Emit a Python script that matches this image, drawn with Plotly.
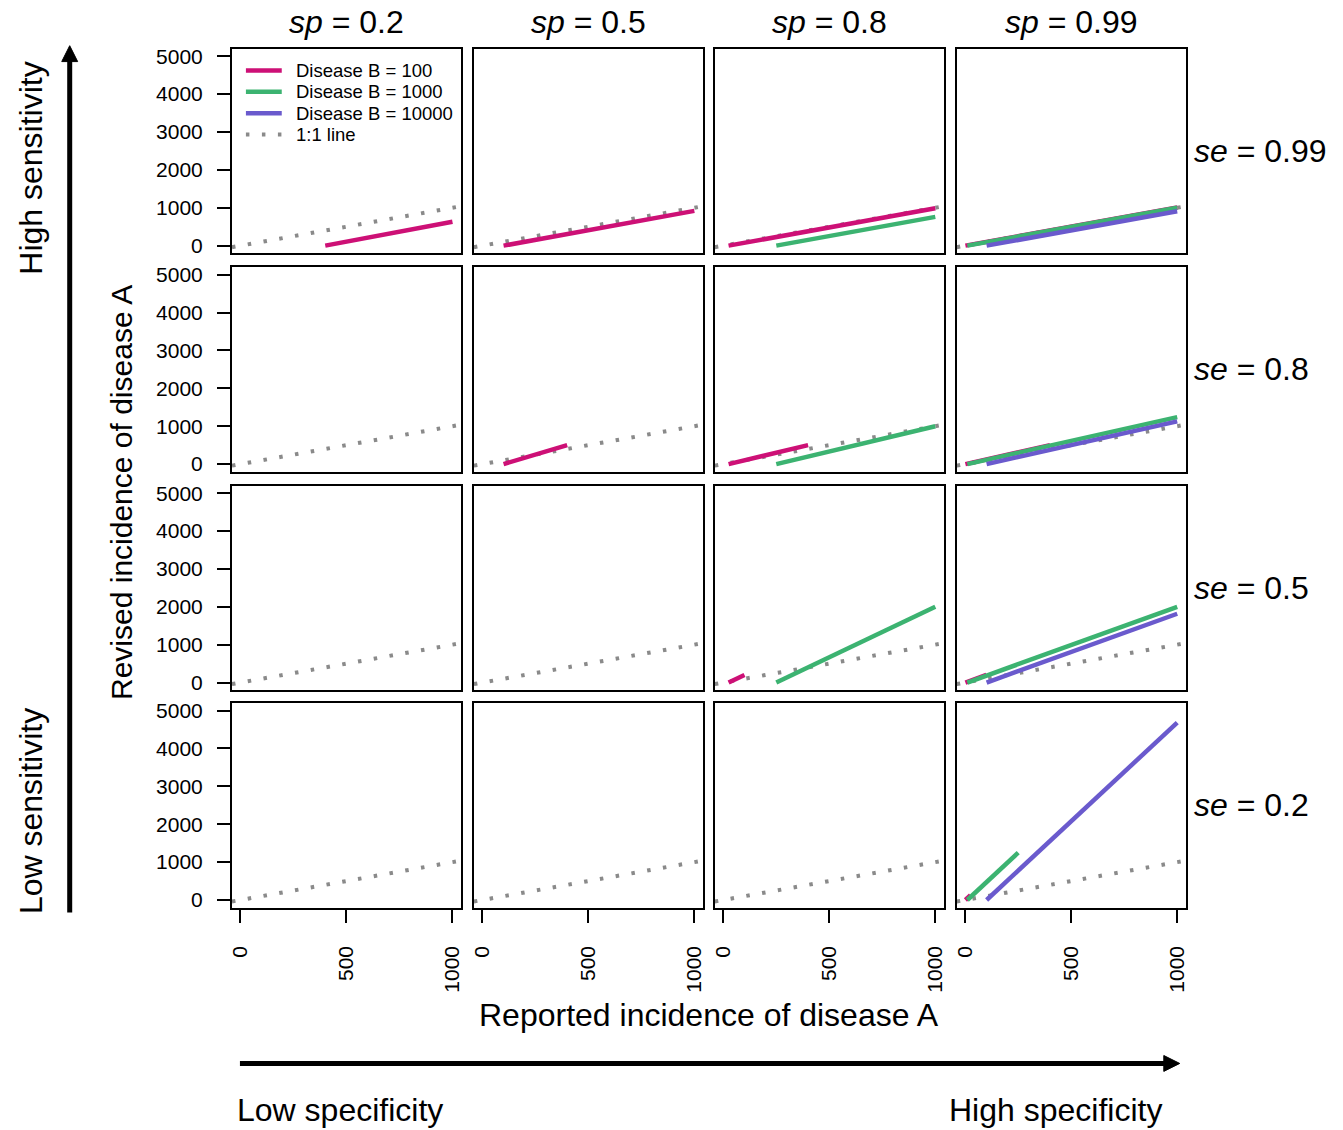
import plotly.graph_objects as go

# ---------------- data ----------------
se_values = [0.99, 0.8, 0.5, 0.2]          # rows, top to bottom
sp_values = [0.2, 0.5, 0.8, 0.99]          # columns, left to right
x_ticks = [0, 500, 1000]
y_ticks = [0, 1000, 2000, 3000, 4000, 5000]

# Disease B = 100
b100_se = [0.99, 0.99, 0.99, 0.99, 0.8, 0.8, 0.8, 0.5, 0.5, 0.2]
b100_sp = [0.2, 0.5, 0.8, 0.99, 0.5, 0.8, 0.99, 0.8, 0.99, 0.99]
b100_x0 = [400, 100, 25, 1, 100, 25, 1, 25, 1, 1]
b100_x1 = [1000, 1000, 1000, 1000, 400, 400, 400, 100, 100, 25]
b100_y0 = [0, 0, 0, 0, 0, 0, 0, 0, 0, 0]
b100_y1 = [632, 918, 987, 1009, 500, 500, 500, 200, 200, 125]

# Disease B = 1000
b1000_se = [0.99, 0.99, 0.8, 0.8, 0.5, 0.5, 0.2]
b1000_sp = [0.8, 0.99, 0.8, 0.99, 0.8, 0.99, 0.99]
b1000_x0 = [250, 10, 250, 10, 250, 10, 10]
b1000_x1 = [1000, 1000, 1000, 1000, 1000, 1000, 250]
b1000_y0 = [0, 0, 0, 0, 0, 0, 0]
b1000_y1 = [759, 1000, 1000, 1241, 2000, 2000, 1250]

# Disease B = 10000
b10000_se = [0.99, 0.8, 0.5, 0.2]
b10000_sp = [0.99, 0.99, 0.99, 0.99]
b10000_x0 = [101, 101, 101, 101]
b10000_x1 = [1000, 1000, 1000, 1000]
b10000_y0 = [0, 0, 0, 0]
b10000_y1 = [908, 1127, 1816, 4684]

# 1:1 reference line (spans the whole plotting region)
ref_x = [-40, 1040]
ref_y = [-40, 1040]

series_names = ["Disease B = 100", "Disease B = 1000", "Disease B = 10000"]
series_colors = ["#CD1076", "#3CB371", "#6A5ACD"]
series = [
    (b100_se, b100_sp, b100_x0, b100_x1, b100_y0, b100_y1),
    (b1000_se, b1000_sp, b1000_x0, b1000_x1, b1000_y0, b1000_y1),
    (b10000_se, b10000_sp, b10000_x0, b10000_x1, b10000_y0, b10000_y1),
]
REF_NAME = "1:1 line"
REF_COLOR = "#8a8a8a"
REF_DASH = "3.5px,12.5px"

# ---------------- layout geometry (pixels) ----------------
W, H = 1343, 1130
col_l = [229, 472, 714, 957]
col_r = [459, 702, 944, 1187]
row_t = [45, 265, 485, 704]
row_b = [251, 471, 691, 910]


def px(x):
    return x / W


def py(y):
    return 1 - y / H


FONT = "Liberation Sans, Arial, Helvetica, sans-serif"
fig = go.Figure()


def axis_id(r, c):
    return r * 4 + c + 1


# 1:1 lines first (underneath)
for r in range(4):
    for c in range(4):
        k = axis_id(r, c)
        fig.add_trace(go.Scatter(
            x=ref_x, y=ref_y, mode="lines",
            line=dict(color=REF_COLOR, width=4, dash=REF_DASH),
            name=REF_NAME, showlegend=False,
            xaxis="x" if k == 1 else f"x{k}", yaxis="y" if k == 1 else f"y{k}",
            hoverinfo="skip",
        ))

for name, color, (s_se, s_sp, x0, x1, y0, y1) in zip(series_names, series_colors, series):
    for i in range(len(s_se)):
        r = se_values.index(s_se[i])
        c = sp_values.index(s_sp[i])
        k = axis_id(r, c)
        fig.add_trace(go.Scatter(
            x=[x0[i], x1[i]], y=[y0[i], y1[i]], mode="lines",
            line=dict(color=color, width=4.5),
            name=name, showlegend=False,
            xaxis="x" if k == 1 else f"x{k}", yaxis="y" if k == 1 else f"y{k}",
        ))

layout = {}
for r in range(4):
    for c in range(4):
        k = axis_id(r, c)
        xn = "xaxis" if k == 1 else f"xaxis{k}"
        yn = "yaxis" if k == 1 else f"yaxis{k}"
        bottom = (r == 3)
        left = (c == 0)
        layout[xn] = dict(
            domain=[px(col_l[c]), px(col_r[c])],
            anchor="y" if k == 1 else f"y{k}",
            range=[-40, 1040], showgrid=False, zeroline=False,
            showline=True, mirror=True, linecolor="black", linewidth=2,
            tickmode="array", tickvals=x_ticks, ticktext=[str(v) for v in x_ticks],
            ticks="outside" if bottom else "", ticklen=13, tickwidth=2, tickcolor="black",
            showticklabels=bottom, tickangle=-90, ticklabelstandoff=15,
            tickfont=dict(family=FONT, size=21, color="black"),
            fixedrange=True,
        )
        layout[yn] = dict(
            domain=[py(row_b[r]), py(row_t[r])],
            anchor="x" if k == 1 else f"x{k}",
            range=[-200, 5200], showgrid=False, zeroline=False,
            showline=True, mirror=True, linecolor="black", linewidth=2,
            tickmode="array", tickvals=y_ticks, ticktext=[str(v) for v in y_ticks],
            ticks="outside" if left else "", ticklen=13, tickwidth=2, tickcolor="black",
            showticklabels=left, ticklabelstandoff=10,
            tickfont=dict(family=FONT, size=21, color="black"),
            fixedrange=True,
        )

annotations = []
TFS = 32
for c, sp in enumerate(sp_values):
    annotations.append(dict(
        x=px((col_l[c] + col_r[c]) / 2), y=py(18), xref="paper", yref="paper",
        text=f"<i>sp</i> = {sp}", showarrow=False, xanchor="center", yanchor="middle",
        font=dict(family=FONT, size=TFS, color="black"),
    ))
for r, se in enumerate(se_values):
    annotations.append(dict(
        x=px(1193), y=py((row_t[r] + row_b[r]) / 2), xref="paper", yref="paper",
        text=f"<i>se</i> = {se}", showarrow=False, xanchor="left", yanchor="middle",
        font=dict(family=FONT, size=TFS, color="black"),
    ))

annotations += [
    dict(x=px(118), y=py(492), xref="paper", yref="paper", text="Revised incidence of disease A",
         textangle=-90, showarrow=False, xanchor="center", yanchor="middle",
         font=dict(family=FONT, size=30, color="black")),
    dict(x=px(708), y=py(1018), xref="paper", yref="paper", text="Reported incidence of disease A",
         showarrow=False, xanchor="center", yanchor="middle",
         font=dict(family=FONT, size=TFS, color="black")),
    dict(x=px(27), y=py(165), xref="paper", yref="paper", text="High sensitivity",
         textangle=-90, showarrow=False, xanchor="center", yanchor="middle",
         font=dict(family=FONT, size=TFS, color="black")),
    dict(x=px(27), y=py(813), xref="paper", yref="paper", text="Low sensitivity",
         textangle=-90, showarrow=False, xanchor="center", yanchor="middle",
         font=dict(family=FONT, size=TFS, color="black")),
    dict(x=px(232), y=py(1114), xref="paper", yref="paper", text="Low specificity",
         showarrow=False, xanchor="left", yanchor="middle",
         font=dict(family=FONT, size=TFS, color="black")),
    dict(x=px(1165), y=py(1114), xref="paper", yref="paper", text="High specificity",
         showarrow=False, xanchor="right", yanchor="middle",
         font=dict(family=FONT, size=TFS, color="black")),
]

shapes = [
    # vertical arrow
    dict(type="line", xref="paper", yref="paper", x0=px(66), x1=px(66), y0=py(915), y1=py(57),
         line=dict(color="black", width=5)),
    dict(type="path", xref="paper", yref="paper",
         path=f"M {px(58)} {py(58)} L {px(74)} {py(58)} L {px(66)} {py(42)} Z",
         fillcolor="black", line=dict(color="black", width=1)),
    # horizontal arrow
    dict(type="line", xref="paper", yref="paper", x0=px(237), x1=px(1166), y0=py(1067), y1=py(1067),
         line=dict(color="black", width=5)),
    dict(type="path", xref="paper", yref="paper",
         path=f"M {px(1165)} {py(1059)} L {px(1165)} {py(1075)} L {px(1181)} {py(1067)} Z",
         fillcolor="black", line=dict(color="black", width=1)),
]

# legend drawn inside the top-left panel (R-style legend box without border)
leg_names = series_names + [REF_NAME]
leg_colors = series_colors + [REF_COLOR]
leg_dash = ["solid", "solid", "solid", REF_DASH]
leg_y = [67, 88.5, 110, 131.5]
for nm, colr, dsh, yy in zip(leg_names, leg_colors, leg_dash, leg_y):
    shapes.append(dict(type="line", xref="paper", yref="paper",
                       x0=px(243), x1=px(281 if dsh != "solid" else 279), y0=py(yy), y1=py(yy),
                       line=dict(color=colr, width=4 if dsh != "solid" else 4.5, dash=dsh)))
    annotations.append(dict(x=px(291), y=py(yy), xref="paper", yref="paper", text=nm,
                            showarrow=False, xanchor="left", yanchor="middle",
                            font=dict(family=FONT, size=18.5, color="black")))

fig.update_layout(
    width=W, height=H, margin=dict(l=0, r=0, t=0, b=0),
    paper_bgcolor="white", plot_bgcolor="white",
    font=dict(family=FONT, color="black"),
    annotations=annotations, shapes=shapes,
    showlegend=False,
    **layout,
)

fig.write_html("out.html", config={"displayModeBar": False},
               post_script="document.body.style.margin='0';")
